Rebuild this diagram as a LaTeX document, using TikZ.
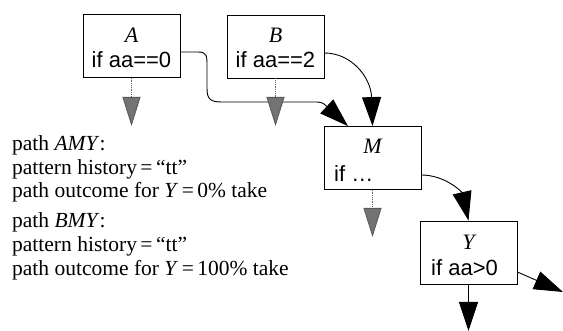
\documentclass[tikz,border=0pt]{standalone}
\usepackage{fontspec}
\setmainfont{Liberation Serif}
\setsansfont{Liberation Sans}
\usetikzlibrary{arrows.meta}
\newcommand{\eqsp}{\hspace{3.5pt}=\hspace{3.5pt}}
\begin{document}
\begin{tikzpicture}[x=1pt,y=-1pt,
  box/.style={draw,line width=0.8pt,minimum width=97pt,minimum height=63pt,inner sep=0pt},
  lbl/.style={inner sep=0pt,anchor=base,font=\fontsize{22}{24}\selectfont\itshape},
  cond/.style={inner sep=0pt,anchor=base west,font=\fontsize{22}{24}\selectfont\sffamily},
  txt/.style={inner sep=0pt,anchor=base west,font=\fontsize{21.5}{24}\selectfont},
  flow/.style={line width=0.9pt,-{Triangle[length=29pt,width=19pt]}},
  fall/.style={black!60,densely dotted,line width=0.8pt,
    -{Triangle[length=29pt,width=18pt,fill=black!55,color=black!65]}}]
\useasboundingbox (0,0) rectangle (563,331);
% boxes
\node[box] (A) at (131.5,46) {};
\node[box] (B) at (275.5,46.5) {};
\node[box] (M) at (372.5,158) {};
\node[box] (Y) at (468.5,252.5) {};
% box texts
\node[lbl] (Al) at (131.5,43) {A};
\node[cond,anchor=base] (Ac) at (131.5,68) {if aa==0};
\node[lbl] (Bl) at (275.5,43) {B};
\node[cond,anchor=base] (Bc) at (275.5,68) {if aa==2};
\node[lbl] (Ml) at (372.5,154) {M};
\node[cond] (Mc) at (334,182) {if \dots};
\node[lbl] (Yl) at (468.5,250) {Y};
\node[cond] (Yc) at (431,276) {if aa>0};
% free ends
\coordinate (Yr) at (563,292);
\coordinate (Yd) at (468.5,331);
\coordinate (Af) at (131.5,126);
\coordinate (Bf) at (275.5,126);
\coordinate (Mf) at (372.5,237);
% connectors
\draw[flow] ([yshift=-6pt]A.east) -- (198,52) .. controls (207,52) and (207,56) .. (207,66)
  -- (207,88) .. controls (207,99) and (210,102) .. (222,102) -- (312,102)
  .. controls (322,102) .. ([xshift=-24.5pt]M.north);
\draw[flow] ([yshift=-6.5pt]B.east) .. controls (352,53) and (371,78) .. (M.north);
\draw[flow] ([yshift=-17pt]M.east) .. controls (445,175) and (462,192) .. (Y.north);
\draw[flow] ([yshift=-19.5pt]Y.east) -- (Yr);
\draw[flow] (Y.south) -- (Yd);
\draw[fall] (A.south) -- (Af);
\draw[fall] (B.south) -- (Bf);
\draw[fall] (M.south) -- (Mf);
% left text
\node[txt] (t1) at (12,151) {path \textit{AMY}:};
\node[txt] (t2) at (12,175) {pattern history\eqsp“tt”};
\node[txt] (t3) at (12,198) {path outcome for \textit{Y}\eqsp0\% take};
\node[txt] (t4) at (12,228) {path \textit{BMY}:};
\node[txt] (t5) at (12,252) {pattern history\eqsp“tt”};
\node[txt] (t6) at (12,276) {path outcome for \textit{Y}\eqsp100\% take};
\end{tikzpicture}
\end{document}
